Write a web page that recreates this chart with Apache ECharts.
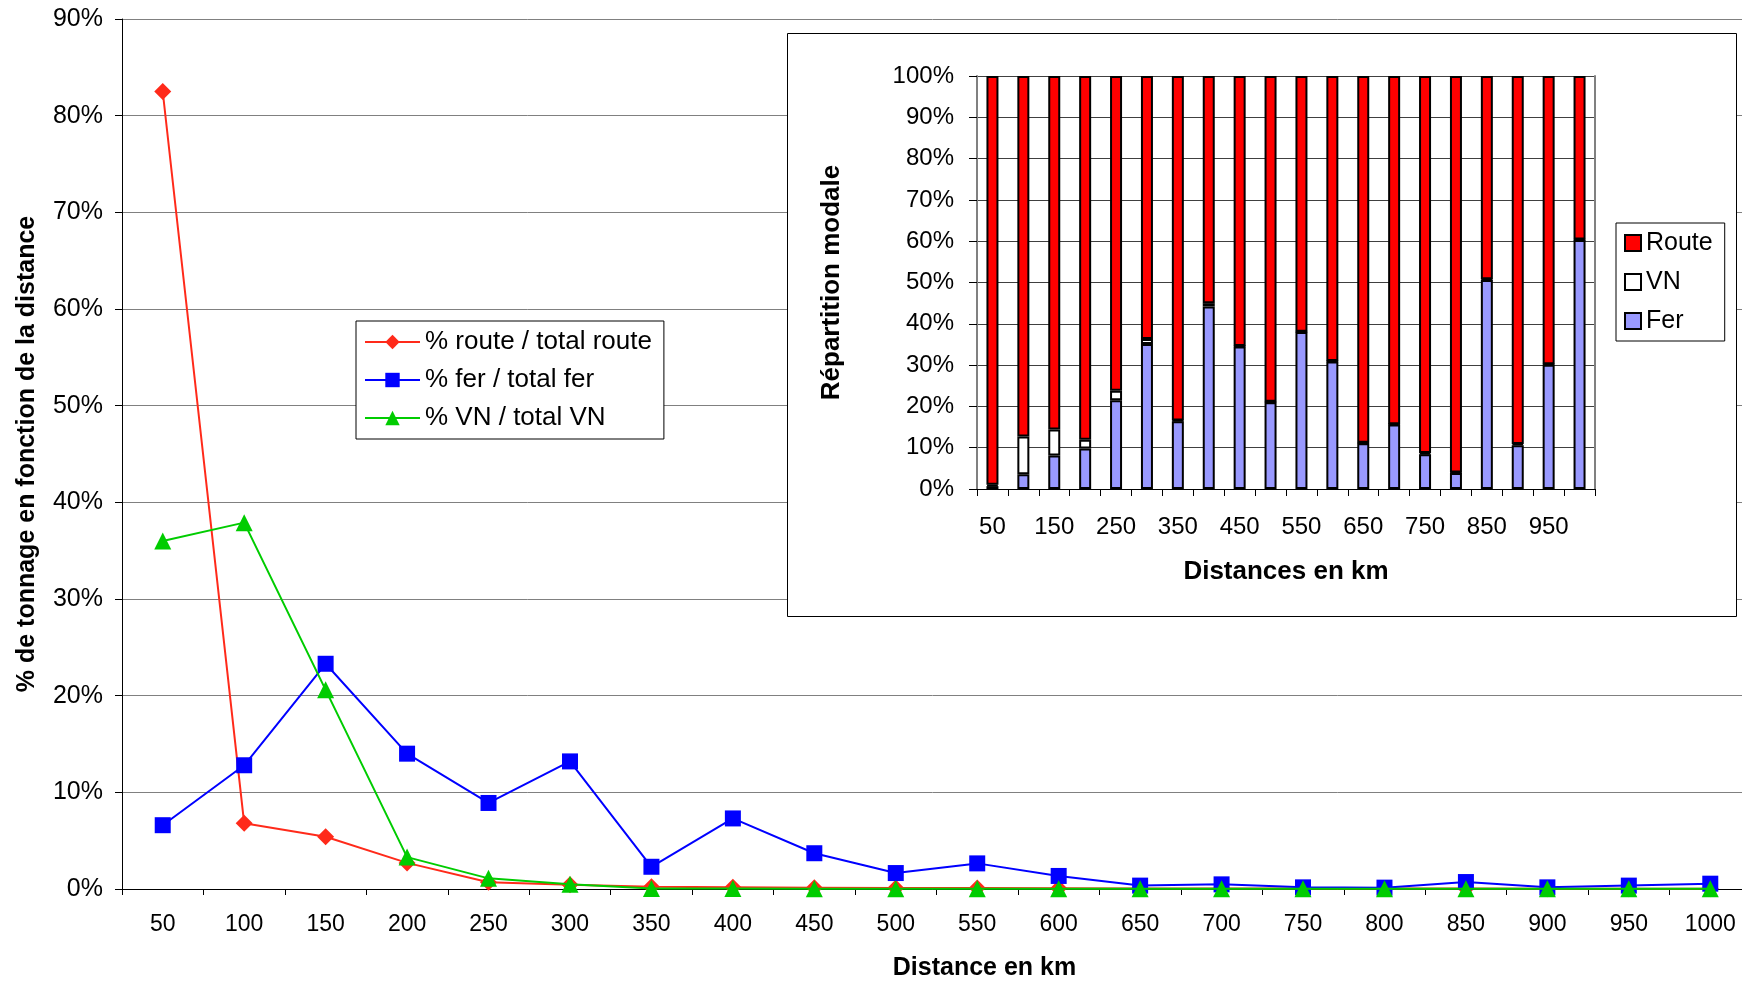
<!DOCTYPE html>
<html><head><meta charset="utf-8">
<script src="https://cdn.jsdelivr.net/npm/echarts@6/dist/echarts.min.js"></script>
<style>html,body{margin:0;padding:0;background:#fff}#c{width:1742px;height:983px}</style>
</head><body><div id="c"></div>
<script>
const distances = ['50','100','150','200','250','300','350','400','450','500','550','600','650','700','750','800','850','900','950','1000'];
const yTicksMain = [0,10,20,30,40,50,60,70,80,90];
// % of each mode's total tonnage by distance
const routeShare = [82.5,6.8,5.4,2.7,0.7,0.45,0.22,0.18,0.14,0.1,0.1,0.08,0.05,0.05,0.04,0.04,0.04,0.03,0.03,0.03];
const ferShare   = [6.6,12.8,23.3,14.0,8.9,13.2,2.3,7.3,3.7,1.65,2.65,1.35,0.35,0.48,0.17,0.14,0.72,0.17,0.35,0.55];
const vnShare    = [36.0,37.9,20.6,3.3,1.1,0.5,0.05,0.05,0.03,0.03,0.02,0.02,0.02,0.02,0.02,0.02,0.02,0.02,0.02,0.02];
// Modal split (inset)
const modalFer   = [0.7,3.6,8.1,9.8,21.5,35.1,16.4,44.2,34.5,21.0,38.0,30.9,11.1,15.6,8.4,3.9,50.6,10.6,30.1,60.3];
const modalVN    = [0.3,9.1,6.3,2.1,2.3,1.2,0.2,0.8,0.1,0.1,0.1,0.1,0.1,0.1,0.3,0.1,0.2,0.3,0.1,0.1];
const modalRoute = [99.0,87.3,85.6,88.1,76.2,63.7,83.4,55.0,65.4,78.9,61.9,69.0,88.8,84.3,91.3,96.0,49.2,89.1,69.8,39.6];

const FONT = 'Liberation Sans, Arial, sans-serif';
const chart = echarts.init(document.getElementById('c'), null, {renderer:'canvas'});
chart.setOption({
  backgroundColor:'#fff',
  animation:false,
  textStyle:{fontFamily:FONT, color:'#000'},
  graphic:[{type:'rect', z:5, shape:{x:787.5,y:33.5,width:949,height:583}, style:{fill:'#fff', stroke:'#000', lineWidth:1}}],
  legend:[
    {data:['% route / total route','% fer / total fer','% VN / total VN'], orient:'vertical', left:356, top:321,
     backgroundColor:'#fff', borderColor:'#000', borderWidth:1, padding:[8,12,8,8], itemGap:12, itemWidth:55, itemHeight:18,
     textStyle:{fontSize:26, fontFamily:FONT, color:'#000', lineHeight:26}, z:20},
    {data:['Route','VN','Fer'], orient:'vertical', left:1616, top:223, icon:'rect',
     backgroundColor:'#fff', borderColor:'#000', borderWidth:1, padding:[7,12,7,8], itemGap:13, itemWidth:16, itemHeight:16,
     textStyle:{fontSize:25, fontFamily:FONT, color:'#000', lineHeight:26}, z:20}
  ],
  grid:[
    {left:122, width:1629, top:19, bottom:94, outerBoundsMode:'none', containLabel:false},
    {left:977, right:147, top:76, bottom:494, z:10, outerBoundsMode:'none', containLabel:false}
  ],
  xAxis:[
    {type:'category', gridIndex:0, data:distances, boundaryGap:true,
     axisLine:{lineStyle:{color:'#000', width:1}}, axisTick:{show:true, interval:0, length:6, lineStyle:{color:'#000'}},
     axisLabel:{interval:0, fontSize:23, color:'#000', margin:24, fontFamily:FONT},
     name:'Distance en km', nameLocation:'middle', nameGap:67,
     nameTextStyle:{fontSize:25, fontWeight:'bold', color:'#000', fontFamily:FONT, padding:[0,0,0,96]}},
    {type:'category', gridIndex:1, data:distances, boundaryGap:true, z:10,
     axisLine:{lineStyle:{color:'#000', width:1}}, axisTick:{show:true, interval:0, length:7, lineStyle:{color:'#000'}},
     axisLabel:{interval:1, fontSize:24, color:'#000', margin:26, fontFamily:FONT},
     name:'Distances en km', nameLocation:'middle', nameGap:70, nameTextStyle:{fontSize:26, fontWeight:'bold', color:'#000', fontFamily:FONT}}
  ],
  yAxis:[
    {type:'value', gridIndex:0, min:0, max:90, interval:10,
     axisLine:{show:true, lineStyle:{color:'#000'}}, axisTick:{show:true, length:7, lineStyle:{color:'#000'}},
     splitLine:{show:true, lineStyle:{color:'#808080', width:1}},
     axisLabel:{formatter:'{value}%', fontSize:25, color:'#000', margin:19, fontFamily:FONT},
     name:'% de tonnage en fonction de la distance', nameLocation:'middle', nameGap:82, nameRotate:90,
     nameTextStyle:{fontSize:25, fontWeight:'bold', color:'#000', fontFamily:FONT}},
    {type:'value', gridIndex:1, min:0, max:100, interval:10, z:10,
     axisLine:{show:true, lineStyle:{color:'#808080', width:2}}, axisTick:{show:true, length:8, lineStyle:{color:'#000'}},
     splitLine:{show:true, lineStyle:{color:'#404040', width:1}},
     axisLabel:{formatter:'{value}%', fontSize:24, color:'#000', margin:23, fontFamily:FONT},
     name:'Répartition modale', nameLocation:'middle', nameGap:132, nameRotate:90,
     nameTextStyle:{fontSize:26, fontWeight:'bold', color:'#000', fontFamily:FONT}},
    {type:'value', gridIndex:1, min:0, max:100, interval:10, position:'right', z:10,
     axisLine:{show:true, lineStyle:{color:'#808080', width:2}}, axisTick:{show:false}, axisLabel:{show:false}, splitLine:{show:false}}
  ],
  series:[
    {name:'% route / total route', type:'line', xAxisIndex:0, yAxisIndex:0, data:routeShare, symbol:'diamond', symbolSize:17,
     lineStyle:{color:'#ff2a1a', width:2}, itemStyle:{color:'#ff2a1a'}, z:3},
    {name:'% fer / total fer', type:'line', xAxisIndex:0, yAxisIndex:0, data:ferShare, symbol:'rect', symbolSize:16,
     lineStyle:{color:'#0000ff', width:2}, itemStyle:{color:'#0000ff'}, z:3},
    {name:'% VN / total VN', type:'line', xAxisIndex:0, yAxisIndex:0, data:vnShare, symbol:'triangle', symbolSize:17,
     lineStyle:{color:'#00cc00', width:2}, itemStyle:{color:'#00cc00'}, z:4},
    {name:'Fer', type:'bar', xAxisIndex:1, yAxisIndex:1, stack:'m', data:modalFer, barWidth:12, z:10,
     itemStyle:{color:'#9999ff', borderColor:'#000', borderWidth:2}},
    {name:'VN', type:'bar', xAxisIndex:1, yAxisIndex:1, stack:'m', data:modalVN, barWidth:12, z:10,
     itemStyle:{color:'#ffffff', borderColor:'#000', borderWidth:2}},
    {name:'Route', type:'bar', xAxisIndex:1, yAxisIndex:1, stack:'m', data:modalRoute, barWidth:12, z:10,
     itemStyle:{color:'#ff0000', borderColor:'#000', borderWidth:2}}
  ]
});
</script></body></html>
